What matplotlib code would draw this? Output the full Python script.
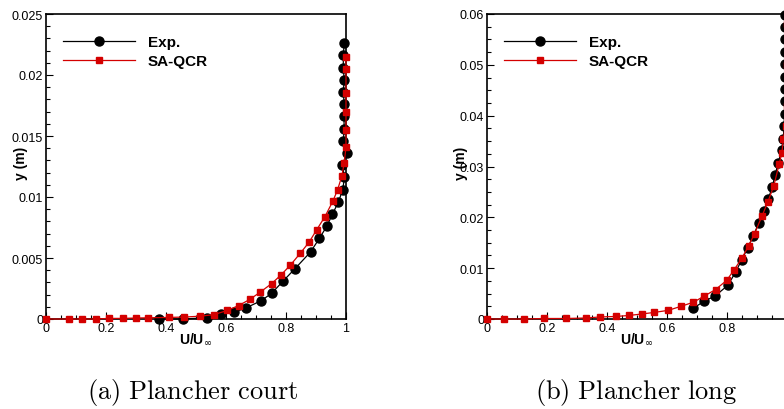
import matplotlib
matplotlib.use('Agg')
import matplotlib.pyplot as plt
from matplotlib.ticker import MultipleLocator, FuncFormatter

plt.rcParams['font.family'] = ['Liberation Sans', 'DejaVu Sans']

# (a) Plancher court
court_exp_u = [0.378, 0.457, 0.536, 0.582, 0.627, 0.666, 0.717, 0.752, 0.790, 0.829,
               0.882, 0.911, 0.936, 0.955, 0.975, 0.989, 0.995, 0.988, 1.002, 0.991,
               0.994, 0.993, 0.994, 0.991, 0.994, 0.991, 0.991, 0.994]
court_exp_y = [0.0, 0.0, 0.0001, 0.0004, 0.00055, 0.0009, 0.0015, 0.0021, 0.0031, 0.0041,
               0.0055, 0.0066, 0.0076, 0.0086, 0.0096, 0.0106, 0.0116, 0.0126, 0.0136, 0.0146,
               0.0156, 0.0166, 0.0176, 0.0186, 0.0196, 0.0206, 0.0216, 0.0226]
court_qcr_u = [0.0, 0.078, 0.121, 0.166, 0.211, 0.256, 0.299, 0.341, 0.411, 0.461,
               0.514, 0.560, 0.604, 0.642, 0.679, 0.714, 0.752, 0.783, 0.814, 0.848,
               0.877, 0.902, 0.930, 0.957, 0.972, 0.986, 0.994, 1.0, 1.0, 1.0,
               1.0, 1.0, 1.0]
court_qcr_y = [0.0, 0.0, 0.0, 0.0, 0.00005, 0.00005, 0.00008, 0.0001, 0.00013, 0.00016,
               0.00023, 0.00036, 0.0007, 0.0011, 0.0016, 0.0022, 0.0029, 0.0036, 0.0044, 0.0054,
               0.0063, 0.0073, 0.0084, 0.0097, 0.0106, 0.0117, 0.0128, 0.0141, 0.0155, 0.0170,
               0.0185, 0.0205, 0.0215]

# (b) Plancher long
long_exp_u = [0.688, 0.723, 0.760, 0.804, 0.829, 0.849, 0.869, 0.888, 0.906, 0.923,
              0.938, 0.951, 0.960, 0.971, 0.982, 0.988, 0.990, 0.992, 0.992, 0.992,
              0.992, 0.992, 0.992, 0.992, 0.992, 0.992]
long_exp_y = [0.0021, 0.0035, 0.0045, 0.0067, 0.0093, 0.0116, 0.0140, 0.0164, 0.0189, 0.0213,
              0.0237, 0.0260, 0.0283, 0.0307, 0.0333, 0.0355, 0.0380, 0.0403, 0.0429, 0.0452,
              0.0477, 0.0501, 0.0525, 0.0550, 0.0574, 0.0599]
long_qcr_u = [0.0, 0.058, 0.122, 0.191, 0.263, 0.329, 0.378, 0.430, 0.474, 0.518,
              0.558, 0.604, 0.647, 0.688, 0.724, 0.762, 0.799, 0.824, 0.850, 0.872,
              0.892, 0.917, 0.936, 0.956, 0.974, 0.983, 0.988, 0.995, 1.0, 1.0, 1.0]
long_qcr_y = [0.0, 0.0, 0.0, 0.0001, 0.0001, 0.0002, 0.0004, 0.0005, 0.0007, 0.0010,
              0.0013, 0.0017, 0.0025, 0.0033, 0.0045, 0.0058, 0.0076, 0.0097, 0.0120, 0.0144,
              0.0168, 0.0203, 0.0230, 0.0262, 0.0305, 0.0327, 0.0355, 0.0380, 0.0420, 0.0500, 0.0580]

captions = [r'$\mathrm{(a)\ Plancher\ court}$', r'$\mathrm{(b)\ Plancher\ long}$']

fig = plt.figure(figsize=(7.84, 4.10), dpi=100)
ax1 = fig.add_axes([46/784, 90/410, 300/784, 305/410])
ax2 = fig.add_axes([487/784, 90/410, 300/784, 305/410])

red = '#d40000'
panels = [
    (ax1, court_exp_u, court_exp_y, court_qcr_u, court_qcr_y, 0.025, 0.005, 0.001, 1.01),
    (ax2, long_exp_u, long_exp_y, long_qcr_u, long_qcr_y, 0.06, 0.01, 0.0025, 0.99),
]

for ax, eu, ey, qu, qy, ymax, ymaj, ymin, xlab_max in panels:
    ax.plot(eu, ey, color='black', lw=0.9, marker='o', ms=6.5, mec='black',
            mfc='black', label='Exp.', clip_on=False, zorder=3)
    ax.plot(qu, qy, color=red, lw=0.9, marker='s', ms=4.5, mec=red,
            mfc=red, label='SA-QCR', clip_on=False, zorder=4)
    ax.set_xlim(0, 1)
    ax.set_ylim(0, ymax)
    ax.xaxis.set_major_locator(MultipleLocator(0.2))
    ax.xaxis.set_minor_locator(MultipleLocator(0.05))
    ax.yaxis.set_major_locator(MultipleLocator(ymaj))
    ax.yaxis.set_minor_locator(MultipleLocator(ymin))
    # the right panel's "1" falls outside the picture
    ax.xaxis.set_major_formatter(FuncFormatter(
        lambda v, p, m=xlab_max: '%g' % v if v <= m else ''))
    ax.yaxis.set_major_formatter(FuncFormatter(lambda v, p: '%g' % v))
    ax.tick_params(which='both', direction='in', labelsize=9, pad=2,
                   top=False, right=False, width=0.8)
    ax.tick_params(which='major', length=5)
    ax.tick_params(which='minor', length=3)
    for s in ax.spines.values():
        s.set_linewidth(1.2)
    ax.text(-0.085, 0.515, 'y (m)', transform=ax.transAxes, rotation=90,
            ha='center', va='center', fontsize=10, fontweight='bold')
    ax.text(0.5, -0.065, r'U/U$_{\infty}$', transform=ax.transAxes,
            ha='center', va='center', fontsize=10, fontweight='bold')
    ax.legend(loc='upper left', bbox_to_anchor=(0.057, 0.93), frameon=False,
              borderpad=0, borderaxespad=0, handlelength=4.7, handletextpad=0.85,
              labelspacing=0.3, prop={'weight': 'bold', 'size': 11})

fig.text(193/784, 1 - 393/410, captions[0], math_fontfamily='cm',
         ha='center', va='center', fontsize=19)
fig.text(636/784, 1 - 393/410, captions[1], math_fontfamily='cm',
         ha='center', va='center', fontsize=19)

fig.savefig('out.png', dpi=100)
